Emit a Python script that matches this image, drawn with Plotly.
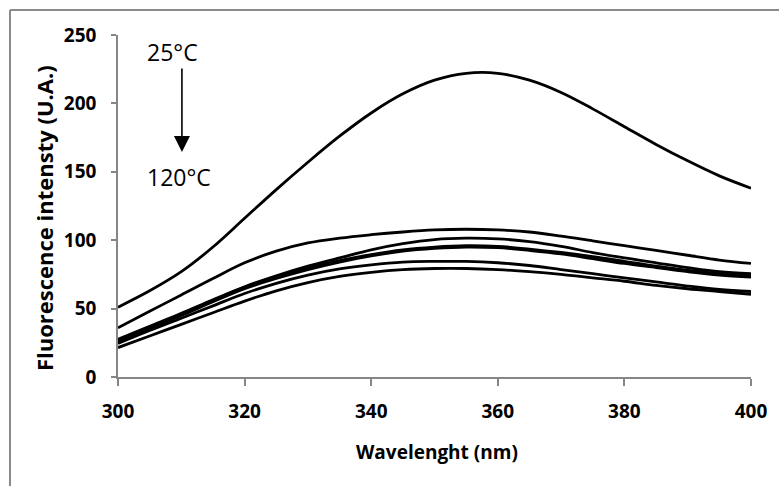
import plotly.graph_objects as go

# Emission wavelength (nm)
wavelength = [300, 305, 310, 315, 320, 325, 330, 335, 340, 345, 350,
              355, 360, 365, 370, 375, 380, 385, 390, 395, 400]

# Fluorescence intensity (U.A.) for each heating step, 25°C -> 120°C
spectrum_1 = [51, 63, 77, 95, 116, 137, 157, 176, 193, 207, 217,
              222, 222, 217, 208, 196, 183, 170, 158, 147, 138]
spectrum_2 = [36, 48, 60, 72, 83.5, 92, 98, 101.5, 104, 106, 107.5,
              108, 107.5, 106, 103, 99.5, 96, 92.5, 89, 85.5, 83]
spectrum_3 = [27.5, 37, 46.5, 56.5, 66, 74, 81, 87, 93, 97.5, 100.5,
              101.5, 101, 99, 95.5, 91, 87, 83.5, 80, 77, 75.5]
spectrum_4 = [27, 36.5, 46, 56, 65.5, 73, 79.5, 85, 89.5, 93, 95,
              96, 95.5, 93.5, 91, 88, 84.5, 81, 78, 75.5, 74]
spectrum_5 = [26, 35.5, 45, 55, 64.5, 72, 78.5, 84, 88.5, 92, 94,
              95, 94.5, 92.5, 90, 86.5, 83, 80, 77, 74.5, 73]
spectrum_6 = [24.5, 34, 43, 52, 61, 68.5, 74.5, 79, 82, 84, 84.5,
              84.5, 83.5, 81.5, 78.5, 75.5, 72.5, 69.5, 66.5, 64, 62.5]
spectrum_7 = [21.5, 30, 38.5, 47, 55.5, 63, 69, 73.5, 76.5, 78.5, 79.3,
              79.3, 78.5, 77, 75, 72.5, 70, 67, 64.5, 62.5, 60.5]

spectra = [spectrum_1, spectrum_2, spectrum_3, spectrum_4,
           spectrum_5, spectrum_6, spectrum_7]

x_ticks = [300, 320, 340, 360, 380, 400]
y_ticks = [0, 50, 100, 150, 200, 250]

AXIS_GREY = "#868686"
FRAME_GREY = "#8a8a8a"
FONT = "Open Sans"

fig = go.Figure()
for s in spectra:
    fig.add_trace(go.Scatter(
        x=wavelength, y=s, mode="lines",
        line=dict(color="black", width=2.8, shape="spline", smoothing=1.0),
        showlegend=False, hoverinfo="skip",
    ))

W, H = 780, 486
ML, MR, MT, MB = 118, 29, 35, 109
pw, ph = W - ML - MR, H - MT - MB


def px(x):
    return (x - ML) / pw


def py(y):
    return (H - MB - y) / ph


fig.update_layout(
    width=W, height=H,
    margin=dict(l=ML, r=MR, t=MT, b=MB, pad=0),
    paper_bgcolor="white", plot_bgcolor="white",
    xaxis=dict(
        range=[300, 400], tickvals=x_ticks, showgrid=False, zeroline=False,
        showline=True, linecolor=AXIS_GREY, linewidth=1.5,
        ticks="outside", ticklen=7, tickwidth=1.5, tickcolor=AXIS_GREY,
        tickfont=dict(family=FONT, size=19, color="black", weight="bold"),
        ticklabelstandoff=9,
    ),
    yaxis=dict(
        range=[0, 250], tickvals=y_ticks, showgrid=False, zeroline=False,
        showline=True, linecolor=AXIS_GREY, linewidth=1.5,
        ticks="outside", ticklen=5, tickwidth=1.5, tickcolor=AXIS_GREY,
        tickfont=dict(family=FONT, size=19, color="black", weight="bold"),
        ticklabelstandoff=11,
    ),
    shapes=[
        # chart frame: left and top edges
        dict(type="line", xref="paper", yref="paper",
             x0=px(10), x1=px(10), y0=py(10), y1=py(H + 5),
             line=dict(color=FRAME_GREY, width=2), layer="above"),
        dict(type="line", xref="paper", yref="paper",
             x0=px(10), x1=px(W - 1), y0=py(10), y1=py(10),
             line=dict(color=FRAME_GREY, width=2), layer="above"),
    ],
    annotations=[
        dict(text="Wavelenght (nm)", xref="paper", yref="paper",
             x=px(437), y=py(452), xanchor="center", yanchor="middle",
             showarrow=False,
             font=dict(family=FONT, size=19, color="black", weight="bold")),
        dict(text="Fluorescence intensty (U.A.)", xref="paper", yref="paper",
             x=px(44), y=py(218), xanchor="center", yanchor="middle",
             showarrow=False, textangle=-90,
             font=dict(family=FONT, size=22, color="black", weight="bold")),
        dict(text="25°C", xref="paper", yref="paper",
             x=px(145), y=py(52), xanchor="left", yanchor="middle",
             showarrow=False,
             font=dict(family=FONT, size=23, color="black")),
        dict(text="120°C", xref="paper", yref="paper",
             x=px(145), y=py(177), xanchor="left", yanchor="middle",
             showarrow=False,
             font=dict(family=FONT, size=23, color="black")),
        dict(text="", x=310.1, y=164.5, xref="x", yref="y",
             ax=310.1, ay=226.6, axref="x", ayref="y",
             showarrow=True, arrowhead=2, arrowsize=2, arrowwidth=1.6,
             arrowcolor="black"),
    ],
)

fig.write_html("out.html")
